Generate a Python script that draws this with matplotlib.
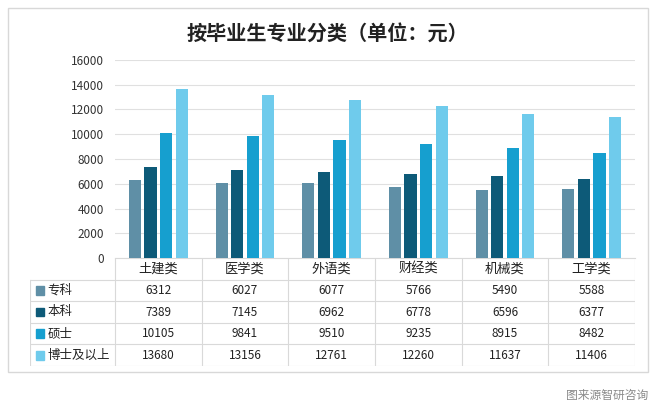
import matplotlib
matplotlib.use('Agg')
import matplotlib.pyplot as plt
import numpy as np
from matplotlib.patches import Rectangle

plt.rcParams['font.family'] = ['Noto Sans CJK SC', 'DejaVu Sans']

categories = ['土建类', '医学类', '外语类', '财经类', '机械类', '工学类']
series_names = ['专科', '本科', '硕士', '博士及以上']
zhuanke = [6312, 6027, 6077, 5766, 5490, 5588]
benke = [7389, 7145, 6962, 6778, 6596, 6377]
shuoshi = [10105, 9841, 9510, 9235, 8915, 8482]
boshi = [13680, 13156, 12761, 12260, 11637, 11406]
colors = ['#5f8fa6', '#0d5a78', '#169fcf', '#6fcbec']
yticks = [0, 2000, 4000, 6000, 8000, 10000, 12000, 14000, 16000]

W, H = 654, 408
fig = plt.figure(figsize=(6.54, 4.08), dpi=100)

# card border
fig.patches.append(Rectangle((8 / W, 1 - 372 / H), 640 / W, 364 / H,
                             transform=fig.transFigure, fill=False,
                             edgecolor='#d8d8d8', linewidth=1))

fig.text(0.5, 1 - 33 / H, '按毕业生专业分类（单位：元）', ha='center', va='center',
         fontsize=14.5, fontweight='bold', color='#222222')

ax = fig.add_axes([115 / W, 1 - 258 / H, 520 / W, 198 / H])
x = np.arange(len(categories))
data = [zhuanke, benke, shuoshi, boshi]
step = 0.18
width = 0.14
for i, vals in enumerate(data):
    ax.bar(x + (i - 1.5) * step, vals, width, color=colors[i], zorder=3)

ax.set_xlim(-0.5, 5.5)
ax.set_ylim(0, 16000)
ax.set_yticks(yticks)
ax.set_yticklabels([str(v) for v in yticks], fontsize=8.5, color='#333333')
ax.set_xticks([])
ax.grid(axis='y', color='#e0e0e0', linewidth=0.8, zorder=0)
for s in ['top', 'right', 'left']:
    ax.spines[s].set_visible(False)
ax.spines['bottom'].set_color('#d9d9d9')
ax.tick_params(axis='y', length=0, pad=8)

# data table
tab = fig.add_axes([30 / W, 1 - 366 / H, 605 / W, 108 / H])
left = -0.5 - 85 / (520 / 6)
tab.set_xlim(left, 5.5)
tab.set_ylim(5, 0)
tab.axis('off')
lc = '#d9d9d9'
for b in np.arange(-0.5, 6.0, 1.0):
    tab.plot([b, b], [0, 5], color=lc, lw=0.8)
tab.plot([left, left], [1, 5], color=lc, lw=0.8)
for r in range(1, 6):
    tab.plot([left, 5.5], [r, r], color=lc, lw=0.8)
for j, c in enumerate(categories):
    tab.text(j, 0.5, c, ha='center', va='center', fontsize=9.5, color='#222222')
for i, vals in enumerate(data):
    yy = i + 1.5
    tab.add_patch(Rectangle((left + 0.07, yy - 0.2), 0.09, 0.4, color=colors[i]))
    tab.text(left + 0.2, yy, series_names[i], ha='left', va='center',
             fontsize=9, color='#222222')
    for j, v in enumerate(vals):
        tab.text(j, yy, str(v), ha='center', va='center', fontsize=8.5, color='#222222')

fig.text(648 / W, 1 - 395 / H, '图来源智研咨询', ha='right', va='center',
         fontsize=8.5, color='#8a8a8a')

fig.savefig('out.png', dpi=100)
